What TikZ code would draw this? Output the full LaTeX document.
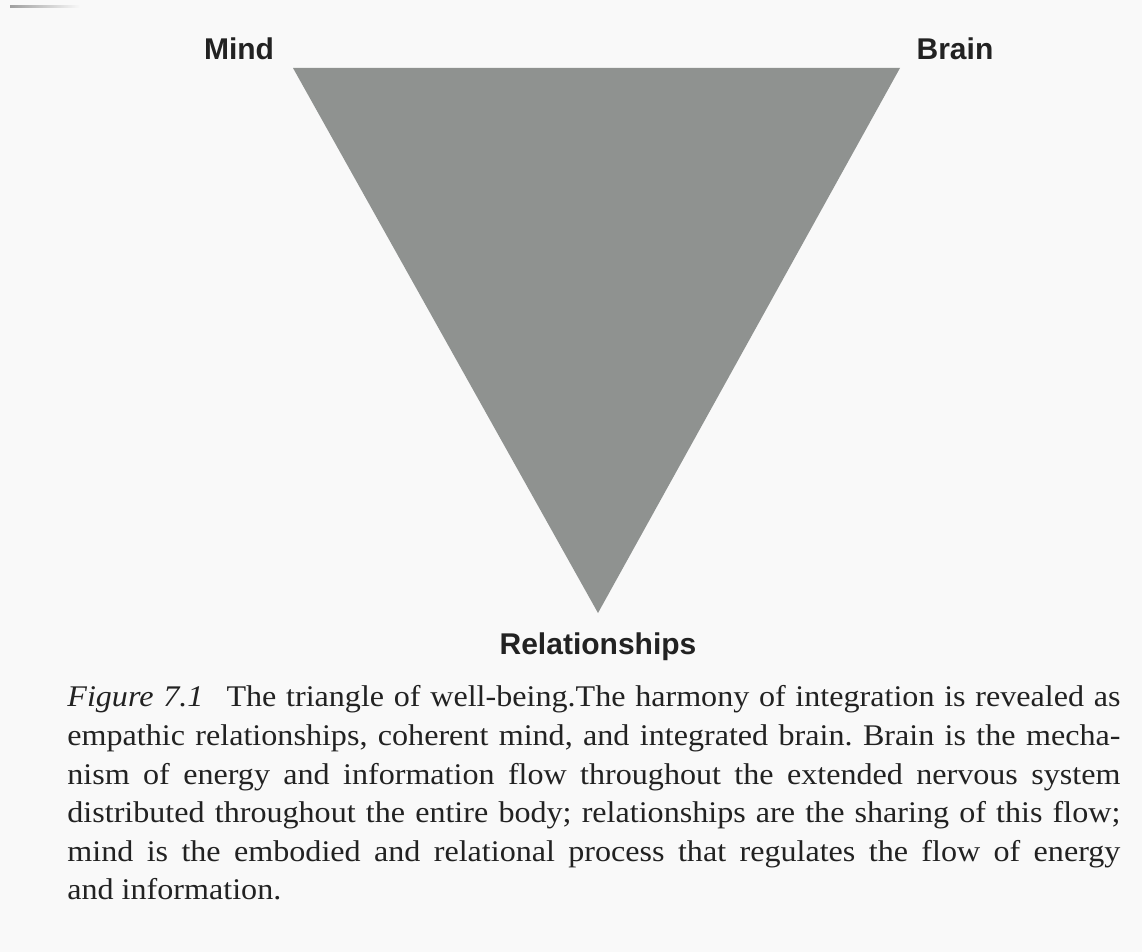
\documentclass[tikz,border=0pt]{standalone}
\usepackage{fontspec}
\setmainfont{Liberation Serif}[FakeStretch=1.07]
\newfontfamily\labelfont{Liberation Sans}
\definecolor{bg}{HTML}{F9F9F9}
\definecolor{tri}{HTML}{8F9290}
\definecolor{ink}{HTML}{222222}
\frenchspacing
\begin{document}
\begin{tikzpicture}[x=0.5pt,y=-0.5pt,
  lab/.style={font=\labelfont\bfseries\fontsize{15}{18}\selectfont, text=ink, inner sep=0pt, anchor=base},
  capline/.style={font=\fontsize{15}{19.5}\selectfont, text=ink, inner sep=0pt, anchor=base west}]
\fill[bg] (0,0) rectangle (1142,952);
\useasboundingbox (0,0) rectangle (1142,952);
\fill[left color=gray!75, right color=bg] (10,6) rectangle (80,8);
\coordinate (tl) at (293,68);
\coordinate (tr) at (900,68);
\coordinate (bt) at (598,613);
\fill[tri] (tl) -- (tr) -- (bt) -- cycle;
\node[lab] (mind) at (239,60) {Mind};
\node[lab] (brain) at (955,60) {Brain};
\node[lab] (rel) at (598,654) {Relationships};
\def\W{526.5pt}
\node[capline] (c1) at (67,706) {\makebox[\W][s]{\textit{Figure 7.1}\hspace{0.45em} The triangle of well-being.The harmony of integration is revealed as}};
\node[capline] (c2) at (67,745) {\makebox[\W][s]{empathic relationships, coherent mind, and integrated brain. Brain is the mecha-}};
\node[capline] (c3) at (67,784) {\makebox[\W][s]{nism of energy and information flow throughout the extended nervous system}};
\node[capline] (c4) at (67,822) {\makebox[\W][s]{distributed throughout the entire body; relationships are the sharing of this flow;}};
\node[capline] (c5) at (67,861) {\makebox[\W][s]{mind is the embodied and relational process that regulates the flow of energy}};
\node[capline] (c6) at (67,899) {and information.};
\end{tikzpicture}
\end{document}
